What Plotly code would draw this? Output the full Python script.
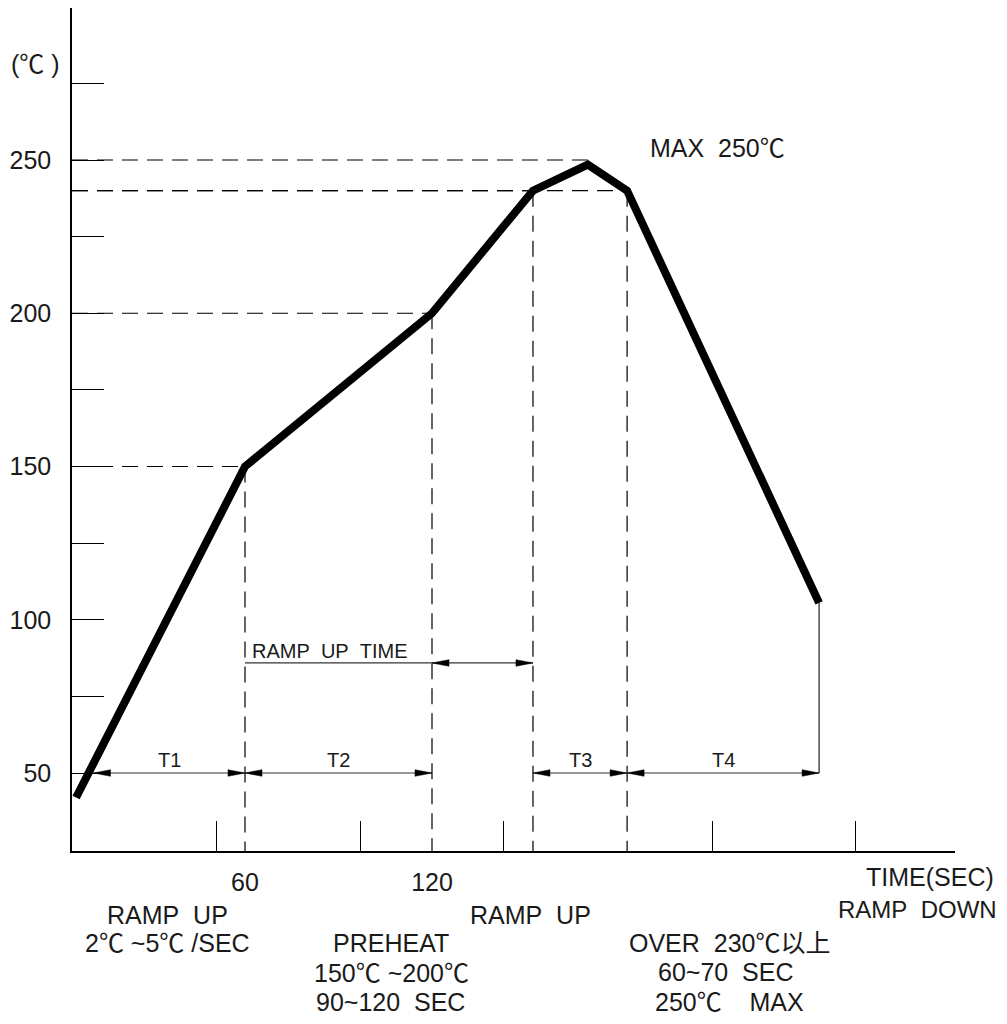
import plotly.graph_objects as go

# ---------------- data ----------------
time_s = [5.8, 60, 120, 152.4, 170, 182.6, 244.2]          # profile time points (s)
temp_c = [42.0, 150, 200, 240, 248.5, 240, 105.5]           # profile temperatures (degC)

y_tick_vals = [50, 75, 100, 125, 150, 175, 200, 225, 250, 275]
y_tick_text = ["50", "", "100", "", "150", "", "200", "", "250", ""]
x_label_vals = [60, 120]
x_label_text = ["60", "120"]
x_minor_ticks = [51, 97, 143, 210, 256]

# guide lines: (level, index of profile point where the guide ends)
h_guides = [(150, 1), (200, 2), (240, 3), (250, 4), (240, 5)]
v_guide_idx = [1, 2, 3, 5]          # vertical dashed lines from these points to the axis
end_idx = 6                         # solid drop line from the last point

interval_level = 50
intervals = [("T1", 11.4, 60), ("T2", 60, 120), ("T3", 152.4, 182.6), ("T4", 182.6, 244.2)]
ramp_time_level = 85.9
ramp_time_line = (60, 120)
ramp_time_arrow = (120, 152.4)

# ---------------- geometry (pixel calibration of the drawing) ----------------
OFF = 8                     # page body margin of the browser
W, H = 1007 - OFF, 1024 - 2 * OFF
L_PX, R_PX, T_PX, B_PX = 72, 955, 8, 851          # plot area in page pixels
PX_PER_S = 187 / 60.0
PX_PER_C = 613 / 200.0
X0 = 60 - (245 - L_PX) / PX_PER_S
X1 = 60 + (R_PX - 245) / PX_PER_S
Y0 = 250 - (B_PX - 160) / PX_PER_C
Y1 = 250 + (160 - T_PX) / PX_PER_C


def px_x(px):
    return 60 + (px - 245) / PX_PER_S


def paper_x(px):
    return (px - L_PX) / (R_PX - L_PX)


def paper_y(py):
    return (B_PX - py) / (B_PX - T_PX)


FONT = "Liberation Sans, Arial, Noto Sans CJK SC, sans-serif"
TXT = "#1a1a1a"
DASH = "16px,9px"

fig = go.Figure()
shapes = []

# horizontal dashed guides
for lvl, i in h_guides:
    shapes.append(dict(type="line", xref="x", yref="y", x0=X0, x1=time_s[i], y0=lvl, y1=lvl,
                       line=dict(color="black", width=1.2, dash=DASH), layer="below"))
# vertical dashed guides
for i in v_guide_idx:
    shapes.append(dict(type="line", xref="x", yref="y", x0=time_s[i], x1=time_s[i], y0=temp_c[i], y1=Y0,
                       line=dict(color="black", width=1.2, dash=DASH), layer="below"))
# solid end drop line
shapes.append(dict(type="line", xref="x", yref="y", x0=time_s[end_idx], x1=time_s[end_idx],
                   y0=temp_c[end_idx], y1=interval_level, line=dict(color="#333", width=1.3), layer="below"))

# interval dimension lines
for name, a, b in intervals:
    shapes.append(dict(type="line", xref="x", yref="y", x0=a, x1=b, y0=interval_level, y1=interval_level,
                       line=dict(color="#333", width=1.2), layer="below"))
# ramp up time lines
shapes.append(dict(type="line", xref="x", yref="y", x0=ramp_time_line[0], x1=ramp_time_arrow[1],
                   y0=ramp_time_level, y1=ramp_time_level, line=dict(color="#333", width=1.2), layer="below"))

fig.update_layout(shapes=shapes)

# arrowheads (filled triangles) computed from the segment ends
head_len = 17 / PX_PER_S
head_half = 3.3 / PX_PER_C
ax_pts, ay_pts = [], []


def add_heads(a, b, lvl):
    ax_pts.extend([a, a + head_len, a + head_len, a, None])
    ay_pts.extend([lvl, lvl + head_half, lvl - head_half, lvl, None])
    ax_pts.extend([b, b - head_len, b - head_len, b, None])
    ay_pts.extend([lvl, lvl + head_half, lvl - head_half, lvl, None])


for name, a, b in intervals:
    add_heads(a, b, interval_level)
add_heads(ramp_time_arrow[0], ramp_time_arrow[1], ramp_time_level)

fig.add_trace(go.Scatter(x=ax_pts, y=ay_pts, mode="lines", fill="toself", fillcolor="black",
                         line=dict(color="black", width=0.5), hoverinfo="skip", showlegend=False))

# the profile
fig.add_trace(go.Scatter(x=time_s, y=temp_c, mode="lines", line=dict(color="black", width=8),
                         hoverinfo="skip", showlegend=False))

annotations = []
for name, a, b in intervals:
    annotations.append(dict(x=(a + b) / 2, y=interval_level, xref="x", yref="y", text=name, showarrow=False,
                            xanchor="center", yanchor="middle",
                            yshift=13, font=dict(size=20, family=FONT, color=TXT)))
annotations.append(dict(x=px_x(250), y=ramp_time_level, xref="x", yref="y", text="RAMP\u00a0\u00a0UP\u00a0\u00a0TIME",
                        showarrow=False, xanchor="left", yanchor="middle", yshift=12,
                        font=dict(size=20, family=FONT, color=TXT)))

free_texts = [
    ("(℃\u00a0)", 35, 64, 25),
    ("MAX\u00a0\u00a0250℃", 717, 148, 25),
    ("TIME(SEC)", 930, 877, 25),
    ("RAMP\u00a0\u00a0UP", 167, 915, 25),
    ("2℃\u00a0~5℃\u00a0/SEC", 167, 943, 25),
    ("PREHEAT", 391, 943, 25),
    ("150℃\u00a0~200℃", 391, 973, 25),
    ("90~120\u00a0\u00a0SEC", 390, 1002, 25),
    ("RAMP\u00a0\u00a0UP", 530, 915, 25),
    ("RAMP\u00a0\u00a0DOWN", 917, 910, 24),
    ("OVER\u00a0\u00a0230℃以上", 729, 943, 25),
    ("60~70\u00a0\u00a0SEC", 726, 972, 25),
    ("250℃\u00a0\u00a0\u00a0\u00a0MAX", 729, 1002, 25),
]
for t, px, py, fs in free_texts:
    annotations.append(dict(x=paper_x(px), y=paper_y(py), xref="paper", yref="paper", text=t,
                            xanchor="center", yanchor="middle",
                            showarrow=False, font=dict(size=fs, family=FONT, color=TXT)))

fig.update_layout(
    annotations=annotations,
    width=W, height=H,
    margin=dict(l=L_PX - OFF, r=W - (R_PX - OFF), t=T_PX - OFF, b=H - (B_PX - OFF), pad=0),
    paper_bgcolor="white", plot_bgcolor="white",
    showlegend=False,
    font=dict(family=FONT, size=25, color=TXT),
    xaxis=dict(range=[X0, X1], showgrid=False, zeroline=False, showline=True, linecolor="black",
               linewidth=1.5, tickmode="array", tickvals=x_label_vals, ticktext=x_label_text, ticks="",
               ticklabelstandoff=8, tickfont=dict(size=25, family=FONT, color=TXT),
               minor=dict(tickmode="array", tickvals=x_minor_ticks, ticks="inside", ticklen=30,
                          tickwidth=1.3, tickcolor="black", showgrid=False)),
    yaxis=dict(range=[Y0, Y1], showgrid=False, zeroline=False, showline=True, linecolor="black",
               linewidth=1.5, tickmode="array", tickvals=y_tick_vals, ticktext=y_tick_text, ticks="inside",
               ticklen=32, tickwidth=1.3, tickcolor="black", ticklabelstandoff=14,
               tickfont=dict(size=25, family=FONT, color=TXT)),
)

fig.write_html("out.html")
